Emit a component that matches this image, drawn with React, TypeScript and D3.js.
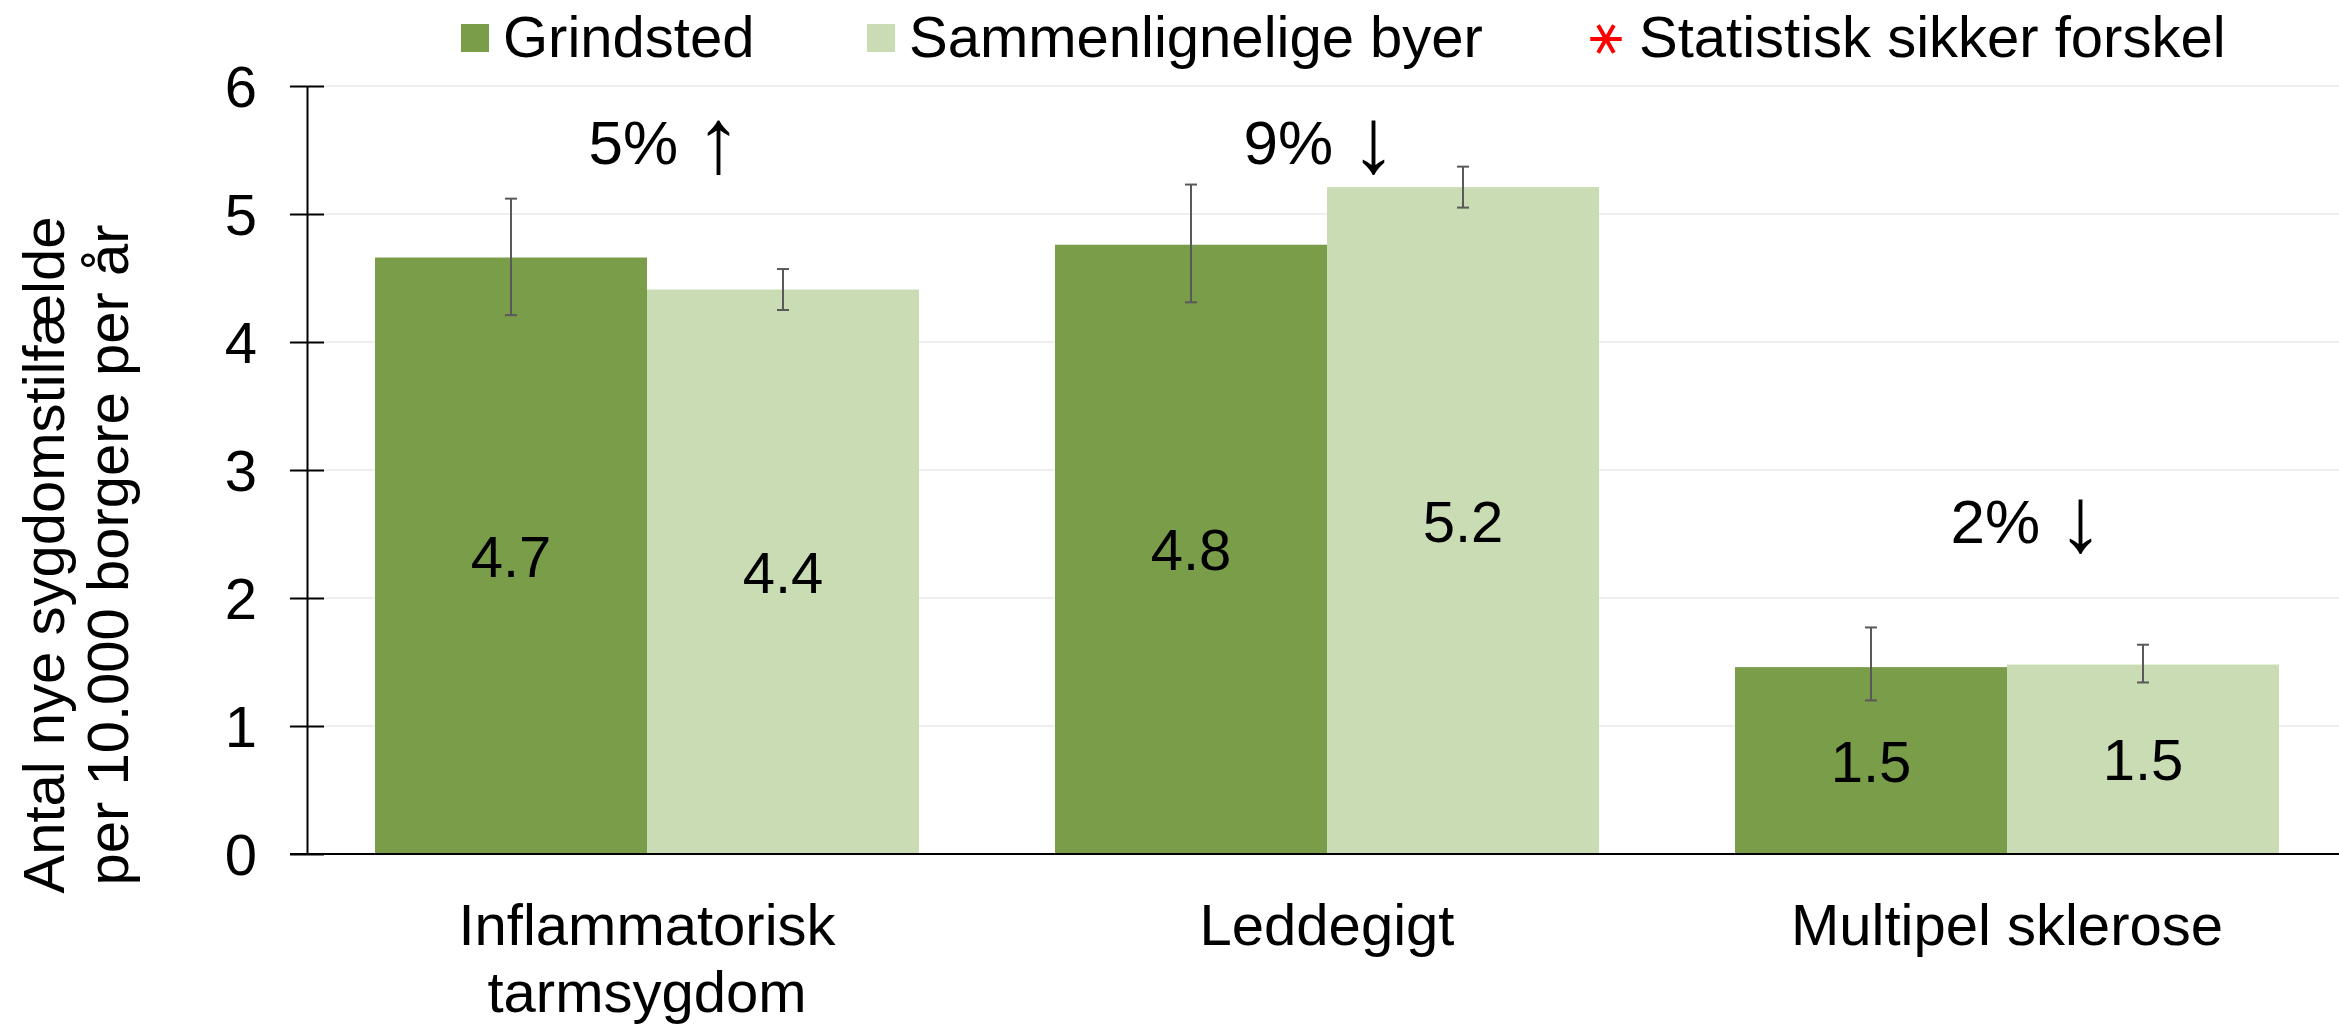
import { useEffect, useRef } from 'react'
import * as d3 from 'd3'

// categories (x axis), one entry per line of the label
const categories = ['Inflammatorisk tarmsygdom', 'Leddegigt', 'Multipel sklerose']
const categoryLines = [['Inflammatorisk', 'tarmsygdom'], ['Leddegigt'], ['Multipel sklerose']]

const seriesNames = ['Grindsted', 'Sammenlignelige byer']

// incidence per 10.000 citizens per year
const grindsted = [4.66, 4.76, 1.46]
const sammenlignelige = [4.41, 5.21, 1.48]

// confidence intervals
const grindstedLow = [4.21, 4.31, 1.2]
const grindstedHigh = [5.12, 5.23, 1.77]
const sammenLow = [4.25, 5.05, 1.34]
const sammenHigh = [4.57, 5.37, 1.635]

// difference annotations and the level (y value) they sit at
const diffPct = ['5%', '9%', '2%']
const diffArrow = ['↑', '↓', '↓']
const diffLevel = [5.39, 5.39, 2.43]

const yTicks = [0, 1, 2, 3, 4, 5, 6]

export default function App() {
  const ref = useRef<SVGSVGElement>(null)

  useEffect(() => {
    const width = 2339,
      height = 1025
    const font = 'Liberation Sans, Arial, sans-serif'
    const colors = ['#7a9d4a', '#cadcb3']

    const svg = d3.select(ref.current)
    svg.selectAll('*').remove()
    svg.attr('width', width).attr('height', height).style('font-family', font)

    const x = d3.scaleBand().domain(categories).range([307, 2347]).paddingInner(0.2).paddingOuter(0.1)
    const xs = d3.scaleBand().domain(seriesNames).range([0, x.bandwidth()])
    const y = d3.scaleLinear().domain([0, 6]).range([854, 86])

    // gridlines
    svg.append('g')
      .selectAll('line')
      .data(yTicks.slice(1))
      .join('line')
      .attr('x1', 324)
      .attr('x2', width)
      .attr('y1', d => y(d))
      .attr('y2', d => y(d))
      .attr('stroke', '#efefef')
      .attr('stroke-width', 2)

    const rows = categories.map((c, i) => [
      { cat: c, s: seriesNames[0], v: grindsted[i], lo: grindstedLow[i], hi: grindstedHigh[i] },
      { cat: c, s: seriesNames[1], v: sammenlignelige[i], lo: sammenLow[i], hi: sammenHigh[i] },
    ]).flat()

    const bars = svg.append('g')
    bars.selectAll('rect')
      .data(rows)
      .join('rect')
      .attr('x', d => x(d.cat)! + xs(d.s)!)
      .attr('width', xs.bandwidth())
      .attr('y', d => y(d.v))
      .attr('height', d => y(0) - y(d.v))
      .attr('fill', (d, i) => colors[i % 2])

    // value labels in the middle of the bars
    bars.selectAll('text')
      .data(rows)
      .join('text')
      .attr('x', d => x(d.cat)! + xs(d.s)! + xs.bandwidth() / 2)
      .attr('y', d => (y(d.v) + y(0)) / 2 + 21)
      .attr('text-anchor', 'middle')
      .style('font-size', '58px')
      .text(d => d3.format('.1f')(d.v))

    // error bars
    const err = svg.append('g').attr('stroke', '#595959').attr('stroke-width', 2)
    rows.forEach(d => {
      const cx = x(d.cat)! + xs(d.s)! + xs.bandwidth() / 2
      err.append('line').attr('x1', cx).attr('x2', cx).attr('y1', y(d.lo)).attr('y2', y(d.hi))
      err.append('line').attr('x1', cx - 6).attr('x2', cx + 6).attr('y1', y(d.lo)).attr('y2', y(d.lo))
      err.append('line').attr('x1', cx - 6).attr('x2', cx + 6).attr('y1', y(d.hi)).attr('y2', y(d.hi))
    })

    // y axis
    const yAxis = svg.append('g').attr('transform', 'translate(307,0)')
      .call(d3.axisLeft(y).tickValues(yTicks).tickFormat(d3.format('d')).tickSize(17).tickSizeOuter(0))
    yAxis.select('.domain').attr('stroke', '#000').attr('stroke-width', 2)
    yAxis.selectAll('.tick line').attr('stroke', '#000').attr('stroke-width', 2).attr('x2', 17).attr('x1', -17)
    yAxis.selectAll('.tick text')
      .attr('x', -50)
      .attr('dy', '0.36em')
      .style('font-size', '58px')
      .style('font-family', font)
      .attr('fill', '#000')

    // x axis baseline
    svg.append('line')
      .attr('x1', 290).attr('x2', width)
      .attr('y1', y(0)).attr('y2', y(0))
      .attr('stroke', '#000').attr('stroke-width', 2)

    // category labels
    const cl = svg.append('g')
    categories.forEach((c, i) => {
      const t = cl.append('text')
        .attr('text-anchor', 'middle')
        .style('font-size', '58px')
      categoryLines[i].forEach((line, j) => {
        t.append('tspan')
          .attr('x', x(c)! + x.bandwidth() / 2)
          .attr('y', 945 + j * 67)
          .text(line)
      })
    })

    // difference annotations
    const diffShift = [18, -7, 20]
    const dt = svg.append('g')
      .selectAll('text')
      .data(categories)
      .join('text')
      .attr('x', (d, i) => x(d)! + x.bandwidth() / 2 + diffShift[i])
      .attr('y', (d, i) => y(diffLevel[i]))
      .attr('text-anchor', 'middle')
      .style('font-size', '62px')
    dt.append('tspan').text((d, i) => diffPct[i] + ' ')
    dt.append('tspan')
      .attr('dy', 8)
      .style('font-size', '92px')
      .style('font-weight', '300')
      .text((d, i) => diffArrow[i])

    // y axis title
    svg.append('text')
      .attr('transform', 'translate(64,555) rotate(-90)')
      .attr('text-anchor', 'middle')
      .style('font-size', '58px')
      .call(t => {
        t.append('tspan').attr('x', 0).attr('dy', 0).text('Antal nye sygdomstilfælde')
        t.append('tspan').attr('x', 0).attr('dy', 64).text('per 10.000 borgere per år')
      })

    // legend
    const lg = svg.append('g').style('font-size', '58px')
    const legendX = [461, 867]
    seriesNames.forEach((s, i) => {
      lg.append('rect').attr('x', legendX[i]).attr('y', 24).attr('width', 28).attr('height', 28).attr('fill', colors[i])
      lg.append('text').attr('x', legendX[i] + 42).attr('y', 57).text(s)
    })
    lg.append('path')
      .attr('d', d3.symbol(d3.symbolAsterisk, 700)())
      .attr('transform', 'translate(1606,39) rotate(90)')
      .attr('stroke', '#ff0000')
      .attr('stroke-width', 4)
      .attr('fill', 'none')
    lg.append('text').attr('x', 1639).attr('y', 57).text('Statistisk sikker forskel')
  }, [])

  return (
    <div style={{ position: 'fixed', left: 0, top: 0, background: '#fff' }}>
      <svg ref={ref}></svg>
    </div>
  )
}
